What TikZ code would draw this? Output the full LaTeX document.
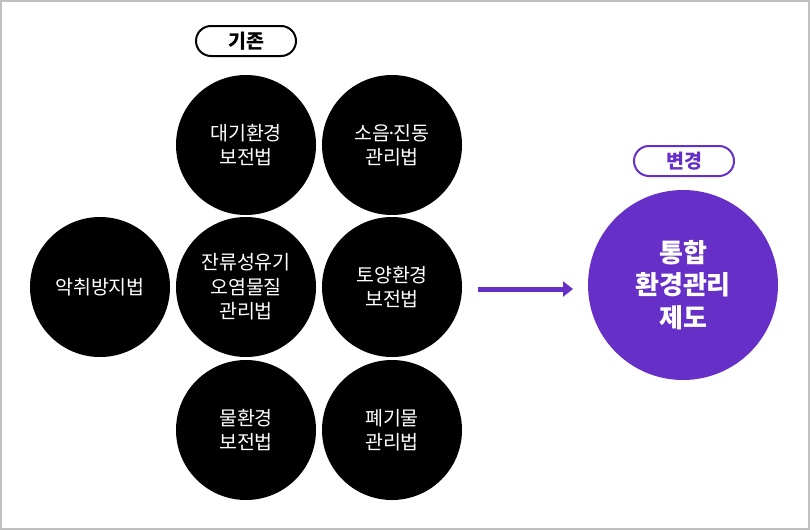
\documentclass[tikz,border=0pt]{standalone}
\usepackage{fontspec}
\setmainfont{Noto Sans CJK KR}
\usepackage{xcolor}
\usepackage{tikz}
\usetikzlibrary{positioning}
\usetikzlibrary{arrows.meta}
\definecolor{LawPurple}{RGB}{102,48,200}
\definecolor{FrameGray}{RGB}{192,192,192}

\begin{document}
\begin{tikzpicture}[x=1pt,y=-1pt,
  lawc/.style={circle, fill=black, text=white, minimum size=140pt, inner sep=0pt, outer sep=0pt,
    align=center, font=\fontsize{19.5}{24.5}\selectfont},
  tagbox/.style={draw, line width=2pt, rounded corners=15pt, minimum width=100pt, minimum height=30pt,
    inner sep=0pt, font=\bfseries\fontsize{19.5}{20}\selectfont}]
\draw[FrameGray, line width=2pt] (1,1) rectangle (809,529);
\useasboundingbox (0,0) rectangle (810,530);

\node[lawc] (daegi) at (246,145) {대기환경\\보전법};
\node[lawc, right=6pt of daegi] (soeum) {소음\kern-.22em·\kern-.22em진동\\관리법};
\node[lawc, below=2pt of daegi] (janryu) {잔류성유기\\오염물질\\관리법};
\node[lawc, left=6pt of janryu] (akchwi) {악취방지법};
\node[lawc, right=6pt of janryu] (toyang) {토양환경\\보전법};
\node[lawc, below=3pt of janryu] (mul) {물환경\\보전법};
\node[lawc, right=6pt of mul] (pyegi) {폐기물\\관리법};

\node[tagbox, draw=black] (gijon) at (246,41) {기존};
\node[tagbox, draw=LawPurple, text=LawPurple] (byeongyeong) at (684,161) {변경};

\node[circle, fill=LawPurple, text=white, minimum size=190pt, inner sep=0pt, align=center,
  font=\bfseries\fontsize{26}{32.5}\selectfont] (tonghap) at (683,285) {통합\\환경관리\\제도};

\coordinate (arrs) at (478,289);
\coordinate (arre) at (573,289);
\draw[LawPurple, line width=5pt, -{Triangle[length=10pt, width=15pt]}] (arrs) -- (arre);
\end{tikzpicture}
\end{document}
